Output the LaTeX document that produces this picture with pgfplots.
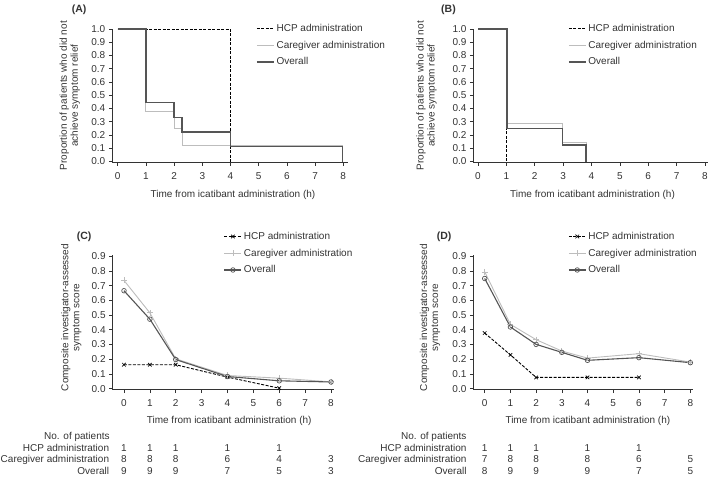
\documentclass[border=0pt]{standalone}
\usepackage{fontspec}
\setmainfont{Liberation Sans}
\usepackage{pgfplots}
\pgfplotsset{compat=1.18}
\definecolor{ovr}{HTML}{555555}
\definecolor{cg}{HTML}{BDBDBD}
\definecolor{axc}{HTML}{333333}
\pgfplotsset{
  myax/.style={
    scale only axis,
    axis x line=bottom, axis y line=left,
    x axis line style={-}, y axis line style={-},
    axis line style={axc, line width=0.6pt},
    tick pos=left,
    tick align=outside,
    major tick length=3.5pt,
    tick style={axc, line width=0.6pt},
    xtick={0,1,2,3,4,5,6,7,8},
    ticklabel style={font=\fontsize{10}{12}\selectfont, text=axc},
    xticklabel shift=3.4pt,
    /pgf/number format/assume math mode=true,
    yticklabel style={/pgf/number format/.cd, fixed, fixed zerofill, precision=1},
    clip=false,
    legend cell align=left,
    legend style={draw=none, fill=none, inner sep=0pt, font=\fontsize{10}{12}\selectfont, text=axc, anchor=north west, row sep=4pt},
    legend image code/.code={\draw[mark repeat=2,mark phase=2,##1] plot coordinates {(0pt,0pt) (8.5pt,0pt) (17pt,0pt)};},
    label style={font=\fontsize{10}{11}\selectfont, text=axc},
    xlabel={Time from icatibant administration (h)},
  },
  hcpkm/.style={black, line width=0.9pt, dash pattern=on 3pt off 1.5pt},
  cgkm/.style={cg, line width=0.8pt},
  ovkm/.style={ovr, line width=1.3pt},
  hcpln/.style={black, line width=0.9pt, dash pattern=on 3pt off 1.5pt, mark=x, mark size=2.5pt, mark options={solid, line width=0.7pt}},
  cgln/.style={cg, line width=0.9pt, mark=+, mark size=3pt, mark options={solid, line width=0.7pt}},
  ovln/.style={ovr, line width=1.1pt, mark=o, mark size=2.3pt, mark options={solid, line width=0.7pt}},
}
\newcommand{\pcol}[4]{%
  \node[anchor=base, inner sep=0pt, yshift=-62.24pt, font=\fontsize{10}{12}\selectfont, text=axc] at (axis cs:#1,0) {#2};
  \node[anchor=base, inner sep=0pt, yshift=-73.74pt, font=\fontsize{10}{12}\selectfont, text=axc] at (axis cs:#1,0) {#3};
  \node[anchor=base, inner sep=0pt, yshift=-85.74pt, font=\fontsize{10}{12}\selectfont, text=axc] at (axis cs:#1,0) {#4};
}
\begin{document}
\begin{tikzpicture}
\useasboundingbox (0pt,0pt) rectangle (709pt,477pt);
% ---------------- (A)
\begin{axis}[myax,
  at={(112.34pt,314.8pt)}, anchor=south west,
  width=236.0pt, height=133.2pt,
  xmin=-0.19, xmax=8.18, ymin=-0.005, ymax=1.0,
  ytick={0,0.1,0.2,0.3,0.4,0.5,0.6,0.7,0.8,0.9,1.0},
  ylabel={Proportion of patients who did not\\achieve symptom relief},
  ylabel style={at={([xshift=-32.3pt]axis description cs:0,0.5)}, anchor=south, rotate=0, align=center, inner sep=0pt},
  xlabel style={at={([xshift=2.6pt,yshift=-35.1pt]axis description cs:0.5,0)}, anchor=base, inner sep=0pt},
  legend style={at={(axis description cs:0.609,1.0526)}},
]
\addplot[hcpkm] coordinates {(0,1) (4,1) (4,0)};
\addlegendentry{HCP administration}
\addplot[cgkm] coordinates {(0,1) (1,1) (1,0.375) (2,0.375) (2,0.25) (2.28,0.25) (2.28,0.125) (7.97,0.125) (7.97,0)};
\addlegendentry{Caregiver administration}
\addplot[ovkm] coordinates {(0,1) (1,1) (1,0.444) (2,0.444) (2,0.333) (2.28,0.333) (2.28,0.222) (4,0.222) (4,0.111) (7.97,0.111) (7.97,0)};
\addlegendentry{Overall}
\end{axis}
% ---------------- (B)
\begin{axis}[myax,
  at={(473.46pt,314.8pt)}, anchor=south west,
  width=234.9pt, height=133.2pt,
  xmin=-0.16, xmax=8.12, ymin=-0.005, ymax=1.0,
  ytick={0,0.1,0.2,0.3,0.4,0.5,0.6,0.7,0.8,0.9,1.0},
  ylabel={Proportion of patients who did not\\achieve symptom relief},
  ylabel style={at={([xshift=-36.5pt]axis description cs:0,0.5)}, anchor=south, rotate=0, align=center, inner sep=0pt},
  xlabel style={at={([xshift=1.6pt,yshift=-35.1pt]axis description cs:0.5,0)}, anchor=base, inner sep=0pt},
  legend style={at={(axis description cs:0.4023,1.0526)}},
]
\addplot[hcpkm] coordinates {(0,1) (0.99,1) (0.99,0)};
\addlegendentry{HCP administration}
\addplot[cgkm] coordinates {(0,1) (1.04,1) (1.04,0.286) (2.99,0.286) (2.99,0.143) (3.82,0.143) (3.82,0)};
\addlegendentry{Caregiver administration}
\addplot[ovkm] coordinates {(0,1) (1.02,1) (1.02,0.25) (2.98,0.25) (2.98,0.125) (3.81,0.125) (3.81,0)};
\addlegendentry{Overall}
\end{axis}
% ---------------- (C)
\begin{axis}[myax,
  at={(112.6pt,87.5pt)}, anchor=south west,
  width=221.0pt, height=134.9pt,
  xmin=-0.44, xmax=8.1, ymin=-0.005, ymax=0.91,
  ytick={0,0.1,0.2,0.3,0.4,0.5,0.6,0.7,0.8,0.9},
  ylabel={Composite investigator-assessed\\symptom score},
  ylabel style={at={([xshift=-31pt,yshift=4.5pt]axis description cs:0,0.5)}, anchor=south, rotate=0, align=center, inner sep=0pt},
  xlabel style={at={([xshift=6.1pt,yshift=-34.1pt]axis description cs:0.5,0)}, anchor=base, inner sep=0pt},
  legend style={at={(axis description cs:0.5027,1.183)}},
]
\addplot[hcpln] coordinates {(0,0.163) (1,0.163) (2,0.163) (4,0.079) (6,0.004)};
\addlegendentry{HCP administration}
\addplot[cgln] coordinates {(0,0.735) (1,0.515) (2,0.203) (4,0.09) (6,0.072) (8,0.047)};
\addlegendentry{Caregiver administration}
\addplot[ovln] coordinates {(0,0.665) (1,0.472) (2,0.198) (4,0.083) (6,0.054) (8,0.046)};
\addlegendentry{Overall}
\pcol{0}{1}{8}{9}
\pcol{1}{1}{8}{9}
\pcol{2}{1}{8}{9}
\pcol{4}{1}{6}{7}
\pcol{6}{1}{4}{5}
\pcol{8}{}{3}{3}
\end{axis}
% ---------------- (D)
\begin{axis}[myax,
  at={(473.4pt,87.5pt)}, anchor=south west,
  width=219.5pt, height=134.9pt,
  xmin=-0.44, xmax=8.1, ymin=-0.005, ymax=0.91,
  ytick={0,0.1,0.2,0.3,0.4,0.5,0.6,0.7,0.8,0.9},
  ylabel={Composite investigator-assessed\\symptom score},
  ylabel style={at={([xshift=-33pt,yshift=4.5pt]axis description cs:0,0.5)}, anchor=south, rotate=0, align=center, inner sep=0pt},
  xlabel style={at={([xshift=4.7pt,yshift=-34.1pt]axis description cs:0.5,0)}, anchor=base, inner sep=0pt},
  legend style={at={(axis description cs:0.431,1.183)}},
]
\addplot[hcpln] coordinates {(0,0.378) (1,0.23) (2,0.077) (4,0.077) (6,0.077)};
\addlegendentry{HCP administration}
\addplot[cgln] coordinates {(0,0.793) (1,0.437) (2,0.333) (3,0.256) (4,0.208) (6,0.238) (8,0.181)};
\addlegendentry{Caregiver administration}
\addplot[ovln] coordinates {(0,0.748) (1,0.419) (2,0.301) (3,0.247) (4,0.193) (6,0.211) (8,0.177)};
\addlegendentry{Overall}
\pcol{0}{1}{7}{8}
\pcol{1}{1}{8}{9}
\pcol{2}{1}{8}{9}
\pcol{4}{1}{8}{9}
\pcol{6}{1}{6}{7}
\pcol{8}{}{5}{5}
\end{axis}
% panel letters and table row labels
\begin{scope}[every node/.style={font=\fontsize{10.5}{12}\selectfont\bfseries, text=axc, inner sep=0pt, anchor=base west}]
\node at (71.7pt,464.5pt) {(A)};
\node at (441pt,464.5pt) {(B)};
\node at (76.7pt,237.5pt) {(C)};
\node at (436.7pt,237.5pt) {(D)};
\end{scope}
\begin{scope}[every node/.style={font=\fontsize{10}{12}\selectfont, text=axc, inner sep=0pt, anchor=base east}]
\node at (109.8pt,38pt) {No. of patients};
\node at (109.3pt,26pt) {HCP administration};
\node at (109.3pt,14.5pt) {Caregiver administration};
\node at (109.3pt,2.5pt) {Overall};
\node at (466.7pt,38pt) {No. of patients};
\node at (466.7pt,26pt) {HCP administration};
\node at (466.7pt,14.5pt) {Caregiver administration};
\node at (466.7pt,2.5pt) {Overall};
\end{scope}
\end{tikzpicture}
\end{document}
